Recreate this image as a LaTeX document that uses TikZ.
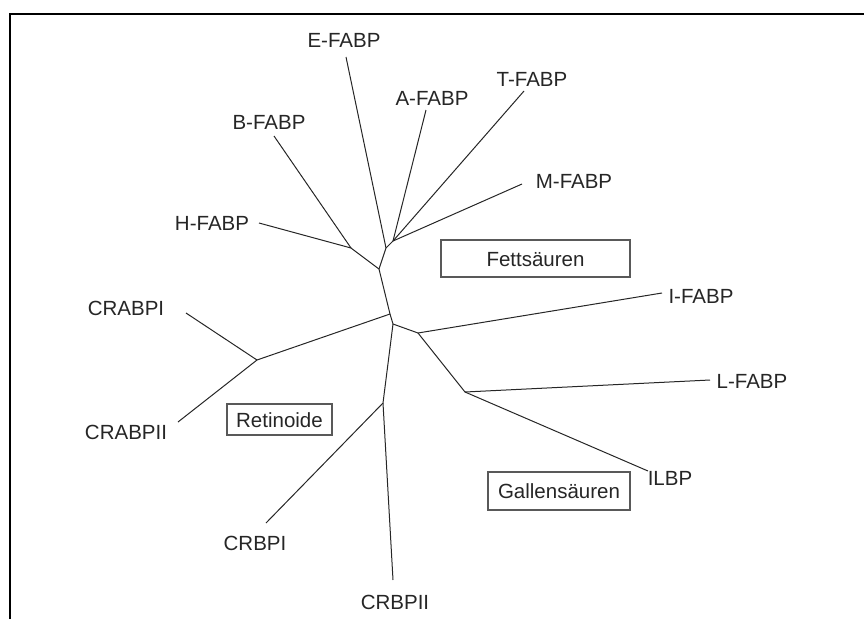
\documentclass[tikz,border=0pt]{standalone}
\usepackage{fontspec}
\setmainfont{Liberation Sans}
\begin{document}
\begin{tikzpicture}[x=1pt,y=-1pt,
  lbl/.style={inner sep=0pt,text height=14.5pt,text depth=0pt,font=\fontsize{20.5}{24}\selectfont,text=black!85},
  grp/.style={draw=black!65,line width=1.2pt,minimum width=#1,minimum height=1pt,inner sep=0pt,font=\fontsize{20.5}{24}\selectfont,text=black!85},
  edge/.style={line width=1pt,draw=black!85},
  frame/.style={line width=2pt,draw=black}]
\useasboundingbox (0,0) rectangle (864,619);
% frame
\draw[frame] (10,619) -- (10,14) -- (864,14);
% inner nodes
\coordinate (n1) at (379,269);
\coordinate (n2) at (386,248);
\coordinate (n4) at (393,241);
\coordinate (hb) at (351,248);
\coordinate (n3) at (390,314);
\coordinate (n5) at (393,324);
\coordinate (n6) at (418,333);
\coordinate (n7) at (465,392);
\coordinate (n8) at (383,403);
\coordinate (n9) at (257,360);
% tips
\coordinate (tE) at (346,57);
\coordinate (tA) at (426,110);
\coordinate (tT) at (524,91);
\coordinate (tM) at (522,184);
\coordinate (tB) at (274,136);
\coordinate (tH) at (259,223);
\coordinate (tI) at (662,293);
\coordinate (tL) at (710,380);
\coordinate (tIL) at (648,471);
\coordinate (tCRBPII) at (393,580);
\coordinate (tCRBPI) at (266,523);
\coordinate (tCRABPI) at (186,313);
\coordinate (tCRABPII) at (178,422);
% edges
\draw[edge] (n1) -- (n2) -- (n4);
\draw[edge] (n2) -- (tE);
\draw[edge] (n4) -- (tA);
\draw[edge] (n4) -- (tT);
\draw[edge] (n4) -- (tM);
\draw[edge] (n1) -- (hb);
\draw[edge] (hb) -- (tB);
\draw[edge] (hb) -- (tH);
\draw[edge] (n1) -- (n3) -- (n5);
\draw[edge] (n3) -- (n9);
\draw[edge] (n9) -- (tCRABPI);
\draw[edge] (n9) -- (tCRABPII);
\draw[edge] (n5) -- (n6) -- (tI);
\draw[edge] (n6) -- (n7) -- (tL);
\draw[edge] (n7) -- (tIL);
\draw[edge] (n5) -- (n8) -- (tCRBPII);
\draw[edge] (n8) -- (tCRBPI);
% labels
\node[lbl] (E) at (344,40) {E-FABP};
\node[lbl] (A) at (432,98) {A-FABP};
\node[lbl] (T) at (532,79) {T-FABP};
\node[lbl] (B) at (269,122) {B-FABP};
\node[lbl] (M) at (574,181) {M-FABP};
\node[lbl] (H) at (212,223) {H-FABP};
\node[lbl] (I) at (701,296) {I-FABP};
\node[lbl] (L) at (752,381) {L-FABP};
\node[lbl] (CRABPI) at (126,308) {CRABPI};
\node[lbl] (CRABPII) at (126,432) {CRABPII};
\node[lbl] (ILBP) at (670,478) {ILBP};
\node[lbl] (CRBPI) at (255,543) {CRBPI};
\node[lbl] (CRBPII) at (395,602) {CRBPII};
% group boxes
\draw[draw=black!65,line width=1.2pt] (441,240) rectangle (630,277);
\node[lbl] (fett) at (535.5,259) {Fettsäuren};
\draw[draw=black!65,line width=1.2pt] (227,404) rectangle (332,435);
\node[lbl] (ret) at (279.5,420) {Retinoide};
\draw[draw=black!65,line width=1.2pt] (488,472) rectangle (630,510);
\node[lbl] (gall) at (559,491) {Gallensäuren};
\end{tikzpicture}
\end{document}
